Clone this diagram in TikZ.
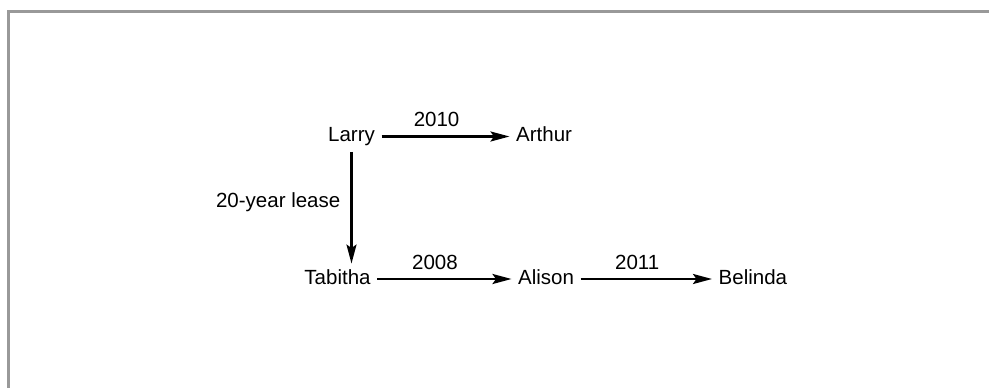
\documentclass[tikz,border=0pt]{standalone}
\usepackage{fontspec}
\setmainfont{Liberation Sans}
\usetikzlibrary{arrows.meta}
\begin{document}
\begin{tikzpicture}[x=1pt,y=-1pt,
  party/.style={font=\fontsize{20.5}{24}\selectfont, inner xsep=6.5pt, inner ysep=6pt,
                text height=14.5pt, text depth=4pt},
  yearlbl/.style={font=\fontsize{20.5}{24}\selectfont, inner sep=0pt, text depth=0pt,
                  anchor=base, yshift=10pt},
  transfer/.style={line width=2.4pt, -{Stealth[length=19pt,width=10pt,inset=3.5pt]}},
  frameline/.style={draw=black!40, line width=3pt}]
  \useasboundingbox (0,0) rectangle (989,388);
  % page frame (top and left edges only)
  \draw[frameline] (8,390) -- (8,11) -- (991,11);

  % parties
  \node[party] (larry)   at (351.5,136.5) {Larry};
  \node[party, anchor=west] (arthur)  at (509.5,136.5) {Arthur};
  \node[party] (tabitha) at (337.5,279) {Tabitha};
  \node[party, anchor=west] (alison)  at (511.5,279) {Alison};
  \node[party, anchor=west] (belinda) at (712,279) {Belinda};

  % conveyances
  \draw[transfer] (larry.east) -- node[yearlbl, pos=0.43] {2010} (arthur.west);
  \draw[transfer] (tabitha.east) -- node[yearlbl, pos=0.43] {2008} (alison.west);
  \draw[transfer] (alison.east) -- node[yearlbl, pos=0.43] {2011} (belinda.west);
  \draw[transfer] (larry.south) -- node[pos=0.45, anchor=east, xshift=-10pt, inner sep=0pt,
        font=\fontsize{20.5}{24}\selectfont] {20-year lease} (larry.south |- tabitha.north);
\end{tikzpicture}
\end{document}
